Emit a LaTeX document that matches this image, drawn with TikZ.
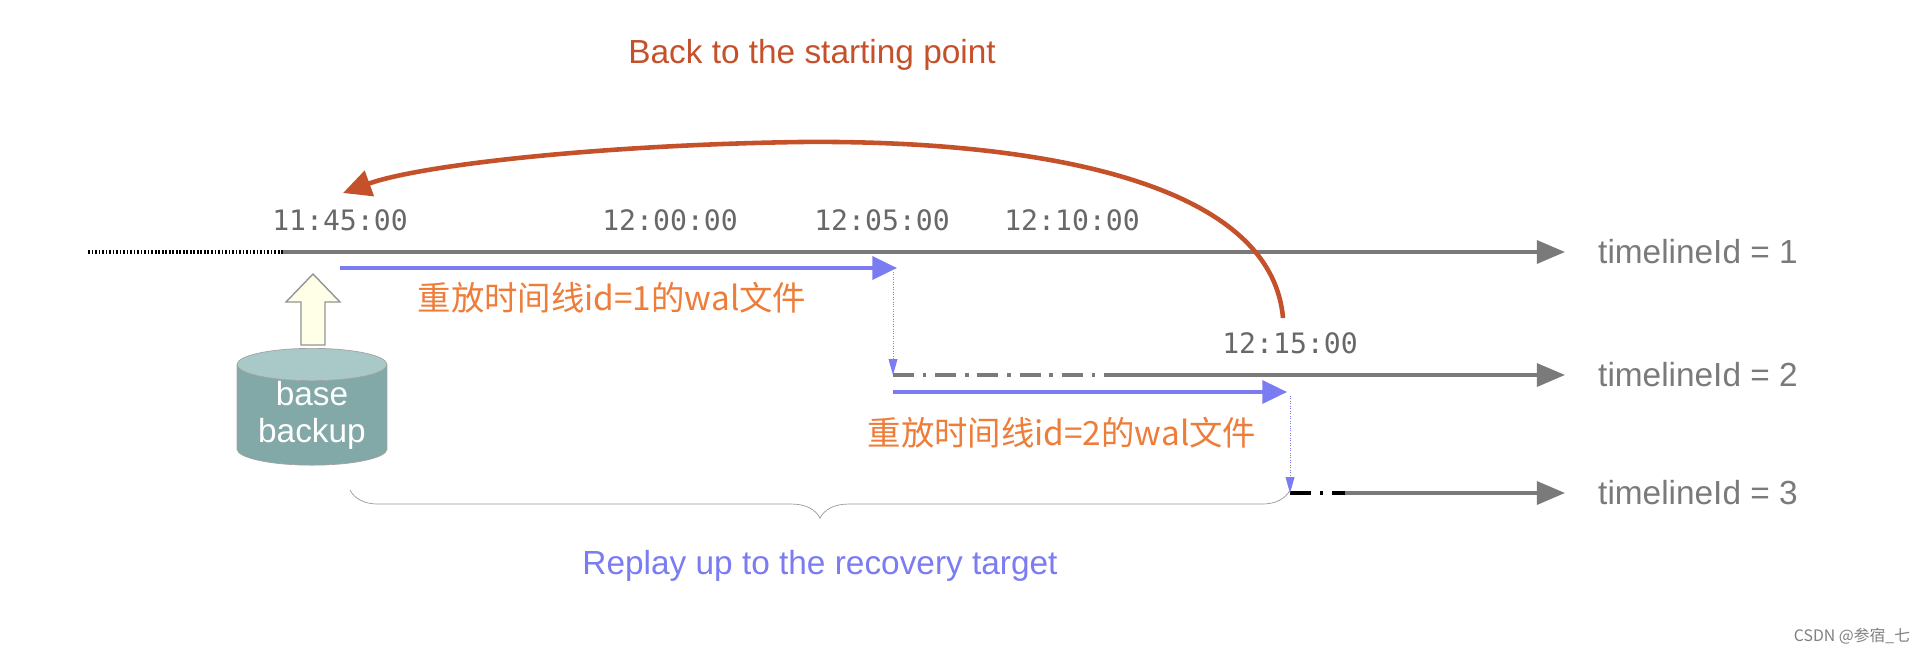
\documentclass[tikz,border=0pt]{standalone}
\usepackage{fontspec}
\setmainfont{Liberation Sans}
\setmonofont{DejaVu Sans Mono}
\newfontfamily\cjk{Noto Sans CJK SC}
\usetikzlibrary{arrows.meta,shapes.geometric,decorations.pathreplacing}
\definecolor{tlgray}{HTML}{7A7A7A}
\definecolor{replay}{HTML}{7B7BF2}
\definecolor{walorange}{HTML}{EE7D3A}
\definecolor{backred}{HTML}{C5512A}
\definecolor{dbbody}{HTML}{82A8A8}
\definecolor{dbtop}{HTML}{A9C9C9}
\tikzset{
  timeline/.style={draw=tlgray, line width=2.2pt, -{Triangle[length=16pt,width=13pt]}},
  replayarrow/.style={draw=replay, line width=2.2pt, -{Triangle[length=14pt,width=13pt]}},
  jump/.style={draw=replay, densely dotted, thin, -{Triangle[length=9pt,width=5pt]}},
  stamp/.style={font=\ttfamily\fontsize{16}{16}\selectfont, text=tlgray!85!black},
  tlname/.style={font=\fontsize{19}{19}\selectfont, text=tlgray, anchor=west},
  walname/.style={font=\cjk\fontsize{19}{19}\selectfont, text=walorange}
}
\begin{document}
\begin{tikzpicture}[x=0.02cm, y=-0.02cm]
  \useasboundingbox[fill=white] (0,0) rectangle (1920,652);
  % time stamps
  \foreach \x/\y/\t/\n in {340/220/11:45:00/a, 670/220/12:00:00/b, 882/220/12:05:00/c,
                           1072/220/12:10:00/d, 1290/343/12:15:00/e}{
    \node[stamp](T\n) at (\x,\y){\t};
  }
  % timelines
  \coordinate (S1) at (88,252);
  \coordinate (B1) at (283,252);
  \coordinate (E1) at (1565,252);
  \coordinate (S2) at (893,375);
  \coordinate (B2) at (1115,375);
  \coordinate (E2) at (1565,375);
  \coordinate (S3) at (1290,493);
  \coordinate (B3) at (1345,493);
  \coordinate (E3) at (1565,493);
  \draw[black, line width=2pt, dash pattern=on 1pt off 1pt] (S1)--(B1);
  \draw[tlgray, line width=2pt, dash pattern=on 12pt off 5pt on 2pt off 5pt] (S2)--(B2);
  \draw[black, line width=2pt, dash pattern=on 12pt off 5pt on 2pt off 5pt] (S3)--(B3);
  \foreach \i in {1,2,3}{
    \draw[timeline](B\i)--(E\i);
  }
  \node[tlname] (L1) at (1592,252){timelineId = 1};
  \node[tlname] (L2) at (1592,375){timelineId = 2};
  \node[tlname] (L3) at (1592,493){timelineId = 3};
  % replay arrows
  \coordinate (R1a) at (340,268);
  \coordinate (R1b) at (897,268);
  \coordinate (R2a) at (893,392);
  \coordinate (R2b) at (1287,392);
  \draw[replayarrow](R1a)--(R1b);
  \draw[replayarrow](R2a)--(R2b);
  \draw[jump](893,272)--(S2);
  \draw[jump](1290,396)--(S3);
  \node[walname] (W1) at (612,298){重放时间线id=1的wal文件};
  \node[walname] (W2) at (1062,433){重放时间线id=2的wal文件};
  % base backup
  \node[cylinder, shape border rotate=90, aspect=0.3, minimum width=3cm, minimum height=2.1cm,
        draw=tlgray!70, cylinder uses custom fill, cylinder body fill=dbbody, cylinder end fill=dbtop,
        text=white, align=center, font=\fontsize{19}{21}\selectfont, inner sep=0pt]
        (DB) at (312,415){base\\backup};
  \draw[tlgray!80, fill=yellow!10, line width=0.8pt]
        (301,345)--(325,345)--(325,302)--(340,302)--(313,274)--(286,302)--(301,302)--cycle;
  % back arc
  \coordinate (A0) at (1283,318);
  \coordinate (A1) at (343,193);
  \draw[backred, line width=2.6pt, -{Triangle[length=16pt,width=15pt]}]
        (A0) .. controls (1270,170) and (1000,140) .. (800,142)
        .. controls (600,145) and (420,165) .. (A1);
  \node[font=\fontsize{19}{19}\selectfont, text=backred] (BK) at (812,55){Back to the starting point};
  % brace
  \draw[gray!80, decorate, decoration={brace, mirror, amplitude=16pt}] (350,490)--(1290,490);
  \node[font=\fontsize{19}{19}\selectfont, text=replay] (RT) at (820,566){Replay up to the recovery target};
  \node[font=\cjk\fontsize{9}{9}\selectfont, text=gray] (WM) at (1852,636){CSDN @参宿\_七};
\end{tikzpicture}
\end{document}
